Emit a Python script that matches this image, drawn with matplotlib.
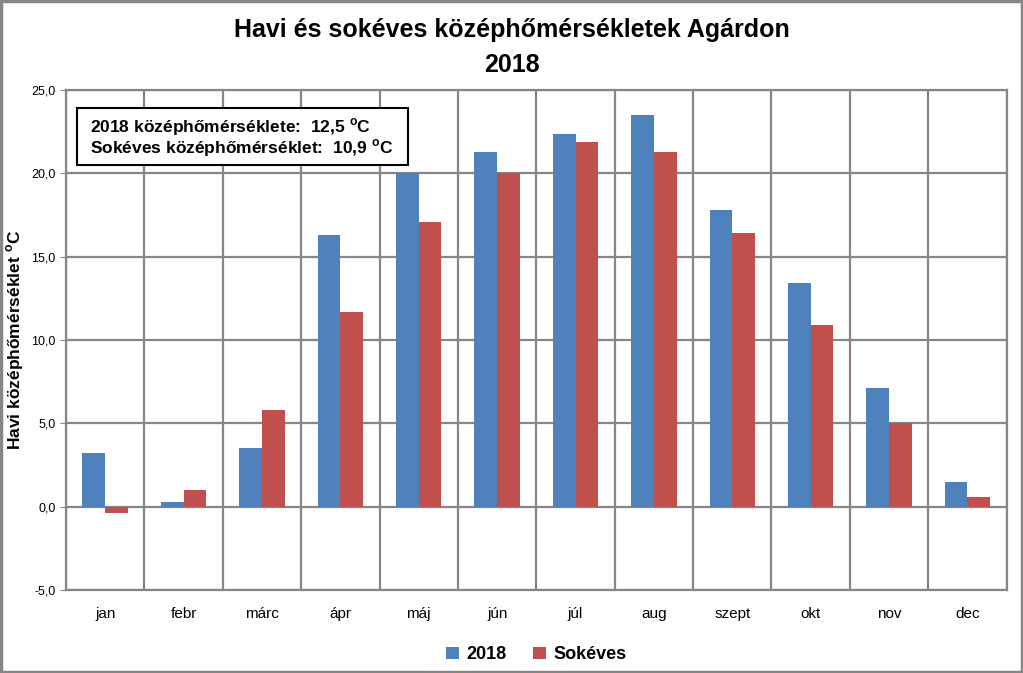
import numpy as np
import matplotlib.pyplot as plt
from matplotlib.ticker import FuncFormatter

plt.rcParams['font.family'] = ['Liberation Sans', 'DejaVu Sans']

months = ['jan', 'febr', 'márc', 'ápr', 'máj', 'jún', 'júl', 'aug', 'szept', 'okt', 'nov', 'dec']
t2018 = [3.2, 0.3, 3.5, 16.3, 20.0, 21.3, 22.4, 23.5, 17.8, 13.4, 7.1, 1.5]
sokeves = [-0.4, 1.0, 5.8, 11.7, 17.1, 20.0, 21.9, 21.3, 16.4, 10.9, 5.0, 0.6]
yticks = [-5, 0, 5, 10, 15, 20, 25]

fig = plt.figure(figsize=(10.23, 6.73), dpi=100)
ax = fig.add_axes([0.0645, 0.1233, 0.9195, 0.7427])

x = np.arange(len(months))
w = 0.29
ax.bar(x - w / 2, t2018, w, color='#4f81bd', label='2018', zorder=3)
ax.bar(x + w / 2, sokeves, w, color='#c0504d', label='Sokéves', zorder=3)

ax.set_xlim(-0.5, len(months) - 0.5)
ax.set_ylim(-5, 25)
ax.set_yticks(yticks)
ax.yaxis.set_major_formatter(FuncFormatter(lambda v, p: f'{v:.1f}'.replace('.', ',')))
ax.tick_params(axis='y', labelsize=9, length=4, color='#868686')
ax.set_xticks(x)
ax.set_xticklabels(months, fontsize=11)
ax.tick_params(axis='x', length=0, pad=12)

# grid
for v in yticks:
    ax.axhline(v, color='#868686', lw=1.6, zorder=1)
for b in np.arange(-0.5, len(months), 1):
    ax.axvline(b, color='#868686', lw=1.6, zorder=1)
for s in ax.spines.values():
    s.set_color('#868686')
    s.set_linewidth(1.6)

sup = '$^{\\mathregular{o}}$'
ax.set_ylabel('Havi középhőmérséklet ' + sup + 'C', fontsize=12.5, fontweight='bold')
ax.yaxis.set_label_coords(-0.043, 0.5)

fig.text(0.5, 0.955, 'Havi és sokéves középhőmérsékletek Agárdon', fontsize=18, fontweight='bold',
         ha='center', va='center')
fig.text(0.5, 0.903, '2018', fontsize=18, fontweight='bold', ha='center', va='center')

# info box
ax.add_patch(plt.Rectangle((0.0117, 0.85), 0.3517, 0.114, transform=ax.transAxes,
                           fc='white', ec='black', lw=1.5, zorder=5))
ax.text(0.0255, 0.926, '2018 középhőmérséklete:  12,5 ' + sup + 'C', transform=ax.transAxes,
        fontsize=12.5, fontweight='bold', va='center', ha='left', zorder=6)
ax.text(0.0255, 0.884, 'Sokéves középhőmérséklet:  10,9 ' + sup + 'C', transform=ax.transAxes,
        fontsize=12.5, fontweight='bold', va='center', ha='left', zorder=6)

ax.legend(loc='upper center', bbox_to_anchor=(0.5, -0.08), ncol=2, frameon=False,
          prop={'size': 13, 'weight': 'bold'},
          handlelength=0.7, handleheight=0.7, columnspacing=1.5, handletextpad=0.4)

fig.patches.append(plt.Rectangle((0.001, 0.001), 0.998, 0.997, transform=fig.transFigure,
                                 fill=False, ec='#868686', lw=2.5))

fig.savefig('out.png', dpi=100)
